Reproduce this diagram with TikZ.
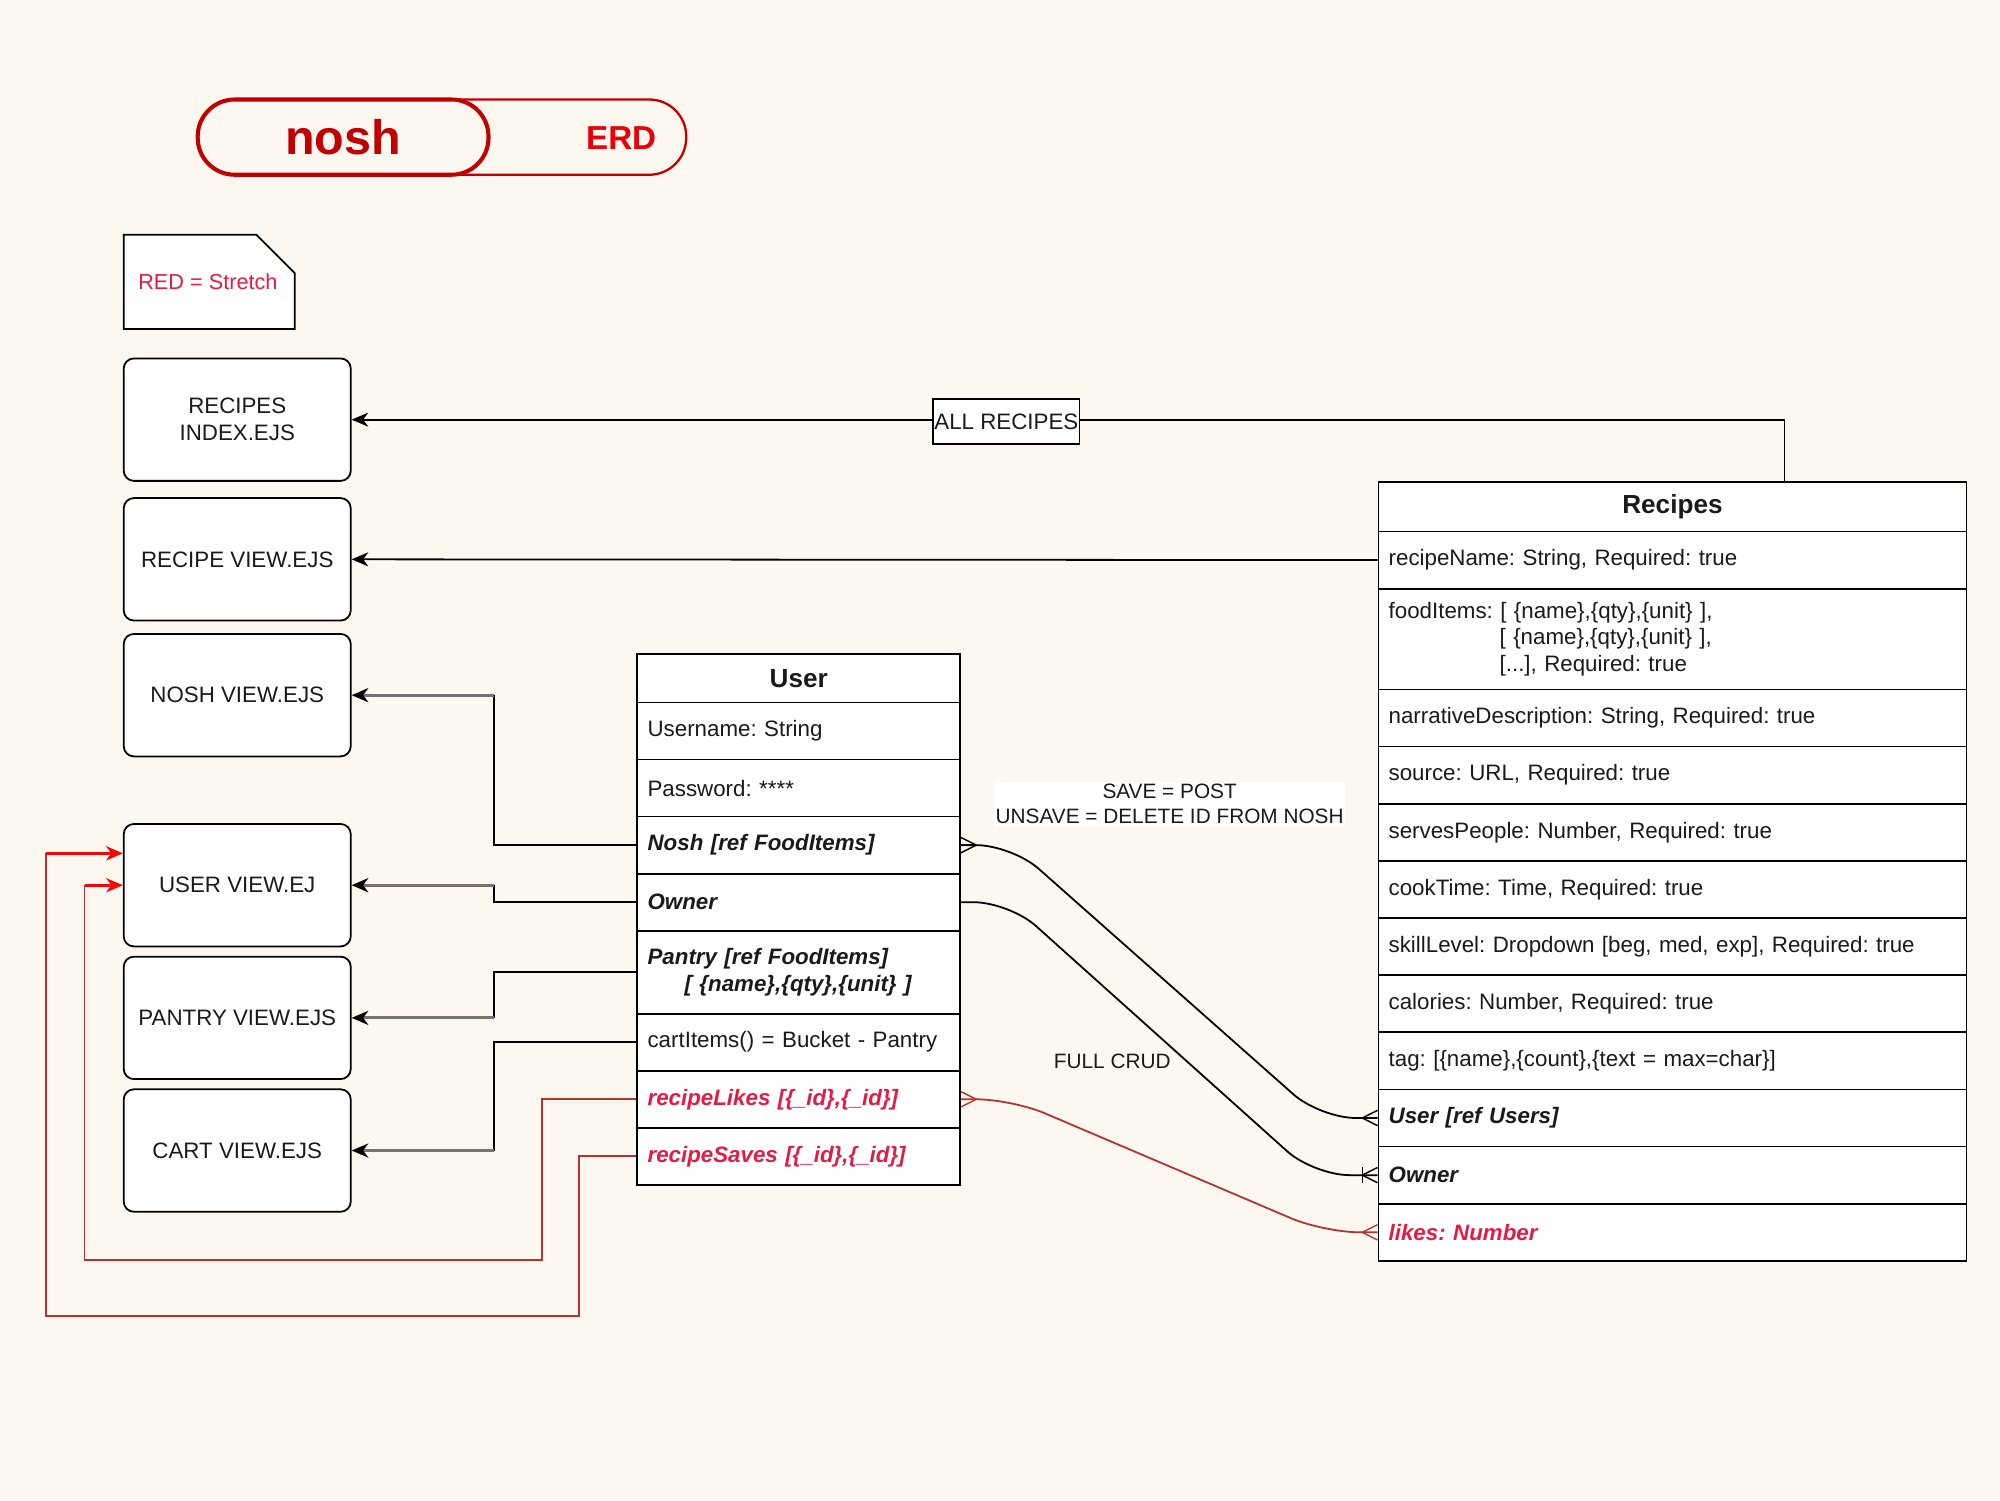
\documentclass[tikz,border=0pt]{standalone}
\usepackage{fontspec}
\setmainfont{Liberation Sans}
\frenchspacing
\usetikzlibrary{arrows.meta,calc}
\definecolor{bgc}{HTML}{FDF8EF}
\definecolor{darkred}{HTML}{C00000}
\definecolor{erdred}{HTML}{E5000A}
\definecolor{stretch}{HTML}{DE1E46}
\definecolor{redwire}{HTML}{B03434}
\definecolor{txt}{HTML}{1A1A1A}
\tikzset{
  fnt/.style={font=\fontsize{17.5}{21}\selectfont},
  row/.style={draw, fill=white, line width=1.4pt, anchor=north west, inner xsep=8pt, inner ysep=0pt, align=left, text=txt, fnt},
  urow/.style={row, text width=237pt, minimum height=44.75pt},
  rrow/.style={row, text width=445pt, minimum height=44.8pt},
  hdr/.style={draw, fill=white, line width=1.4pt, anchor=north west, inner sep=0pt, text=txt, font=\fontsize{20.5}{24}\selectfont\bfseries},
  bi/.style={font=\fontsize{17.5}{21}\selectfont\bfseries\itshape},
  strch/.style={text=stretch},
  view/.style={draw, fill=white, rounded corners=8pt, line width=1.4pt, minimum width=178pt, minimum height=96pt, align=center, text=txt, fnt, inner sep=2pt},
  conn/.style={line width=1.4pt, draw=black},
  tip/.style={-{Stealth[length=13pt,width=11pt,inset=4pt,color=black]}},
  lastseg/.style={line width=2.4pt, draw=black!55, tip},
  redl/.style={line width=1.4pt, draw=redwire},
  redlast/.style={line width=2.2pt, draw=red!85!redwire, -{Stealth[length=13pt,width=11pt,inset=4pt,color=red]}},
  lbl/.style={font=\fontsize{16.3}{19.5}\selectfont, text=txt},
  manyR/.pic={\draw[line width=1.1pt] (-12,0) -- (0,-6) (-12,0) -- (0,6);},
  manyL/.pic={\draw[line width=1.1pt] (12,0) -- (0,-6) (12,0) -- (0,6);},
  oneBar/.pic={\draw[line width=1.1pt] (-12,-6) -- (-12,6);}
}
\begin{document}
\begin{tikzpicture}[x=1pt,y=-1pt]
\fill[bgc] (0,0) rectangle (1568,1176);
\useasboundingbox (0,0) rectangle (1568,1176);

% title
\node[draw=darkred, line width=1.8pt, rounded corners=29pt, minimum width=383pt, minimum height=59pt, inner sep=0pt] (titlebar) at (346.5,107.5) {};
\node[draw=darkred, line width=3.2pt, rounded corners=29pt, minimum width=228pt, minimum height=59pt, inner sep=0pt, text=darkred, font=\fontsize{38}{40}\selectfont\bfseries] (nosh) at (269,107.5) {nosh};
\node[text=erdred, font=\fontsize{26}{28}\selectfont\bfseries] (erd) at (487,108) {ERD};

% note
\draw[fill=white, line width=1.4pt] (97,184) -- (201,184) -- (231,214) -- (231,258) -- (97,258) -- cycle;
\node[text=stretch, font=\fontsize{17}{20}\selectfont] (note) at (163,221) {RED = Stretch};

% views
\node[view] (rindex) at (186,329) {RECIPES\\INDEX.EJS};
\node[view] (recipev) at (186,438.5) {RECIPE VIEW.EJS};
\node[view] (noshv) at (186,545) {NOSH VIEW.EJS};
\node[view] (userv) at (186,694) {USER VIEW.EJ};
\node[view] (pantryv) at (186,798) {PANTRY VIEW.EJS};
\node[view] (cartv) at (186,902) {CART VIEW.EJS};

% User table
\node[hdr, minimum width=253pt, minimum height=38pt] (uhead) at (499,512) {User};
\node[urow] (uname) at (499,550) {Username: String};
\node[urow] (upass) at (499,594.75) {Password: ****};
\node[urow, bi] (unosh) at (499,639.5) {Nosh [ref FoodItems]};
\node[urow, bi] (uowner) at (499,684.25) {Owner};
\node[urow, bi, minimum height=65pt] (upantry) at (499,729) {Pantry [ref FoodItems]\\\hspace*{29pt}[ \{name\},\{qty\},\{unit\} ]};
\node[urow] (ucart) at (499,794) {cartItems() = Bucket - Pantry};
\node[urow, bi, strch] (ulikes) at (499,838.75) {recipeLikes [\{\_id\},\{\_id\}]};
\node[urow, bi, strch] (usaves) at (499,883.5) {recipeSaves [\{\_id\},\{\_id\}]};

% Recipes table
\node[hdr, minimum width=461pt, minimum height=39pt] (rhead) at (1080,377) {Recipes};
\node[rrow] (rname) at (1080,416) {recipeName: String, Required: true};
\node[rrow, minimum height=79pt] (rfood) at (1080,460.8) {foodItems: [ \{name\},\{qty\},\{unit\} ],\\\hspace*{87pt}[ \{name\},\{qty\},\{unit\} ],\\\hspace*{87pt}[...], Required: true};
\node[rrow] (rdesc) at (1080,539.8) {narrativeDescription: String, Required: true};
\node[rrow] (rsource) at (1080,584.6) {source: URL, Required: true};
\node[rrow] (rserves) at (1080,629.4) {servesPeople: Number, Required: true};
\node[rrow] (rcook) at (1080,674.2) {cookTime: Time, Required: true};
\node[rrow] (rskill) at (1080,719) {skillLevel: Dropdown [beg, med, exp], Required: true};
\node[rrow] (rcal) at (1080,763.8) {calories: Number, Required: true};
\node[rrow] (rtag) at (1080,808.6) {tag: [\{name\},\{count\},\{text = max=char\}]};
\node[rrow, bi] (ruser) at (1080,853.4) {User [ref Users]};
\node[rrow, bi] (rowner) at (1080,898.2) {Owner};
\node[rrow, bi, strch] (rlikes) at (1080,943) {likes: Number};

% connectors to views
\coordinate (xk) at (387,0);
\coordinate (ar) at (1399,377);
\draw[conn, tip] (ar) |- (rindex.east);
\node[draw, fill=white, line width=1.2pt, inner xsep=1pt, inner ysep=0pt, minimum height=35pt, text=txt, font=\fontsize{17.5}{21}\selectfont] (allrec) at (789,330.5) {ALL RECIPES};
\draw[conn, tip] (rname.west) -- (recipev.east);

\draw[conn] (unosh.west) -| (noshv.east -| xk);
\draw[lastseg] (noshv.east -| xk) -- (noshv.east);
\draw[conn] (uowner.west) -| (userv.east -| xk);
\draw[lastseg] (userv.east -| xk) -- (userv.east);
\draw[conn] (upantry.west) -| (pantryv.east -| xk);
\draw[lastseg] (pantryv.east -| xk) -- (pantryv.east);
\draw[conn] (ucart.west) -| (cartv.east -| xk);
\draw[lastseg] (cartv.east -| xk) -- (cartv.east);

% red stretch connectors
\coordinate (lk) at (425,988);
\coordinate (sv) at (454,1032);
\draw[redl] (ulikes.west) -| (lk) -| ($(userv.west)+(-30,0)$);
\draw[redlast] ($(userv.west)+(-30,0)$) -- (userv.west);
\draw[redl] (usaves.west) -| (sv) -| ($(userv.west)+(-60,-25)$);
\draw[redlast] ($(userv.west)+(-60,-25)$) -- ($(userv.west)+(0,-25)$);

% ERD relations
\draw[conn, rounded corners=28pt] (unosh.east) -- ++(40,0) -- ($(ruser.west)+(-45,0)$) -- (ruser.west);
\pic at (unosh.east) {manyL};
\pic at (ruser.west) {manyR};
\draw[conn, rounded corners=28pt] (uowner.east) -- ++(38,0) -- ($(rowner.west)+(-50,0)$) -- (rowner.west);
\pic at (rowner.west) {manyR};
\pic at (rowner.west) {oneBar};
\draw[redl, rounded corners=28pt] (ulikes.east) -- ++(40,0) -- ($(rlikes.west)+(-42,0)$) -- (rlikes.west);
\pic[color=redwire] at (ulikes.east) {manyL};
\pic[color=redwire] at (rlikes.west) {manyR};

% labels
\node[lbl, fill=white, inner xsep=1pt, inner ysep=2pt, align=center] (savelbl) at (917,630.5) {SAVE = POST\\UNSAVE = DELETE ID FROM NOSH};
\node[lbl] (crud) at (872,832) {FULL CRUD};
\end{tikzpicture}
\end{document}
